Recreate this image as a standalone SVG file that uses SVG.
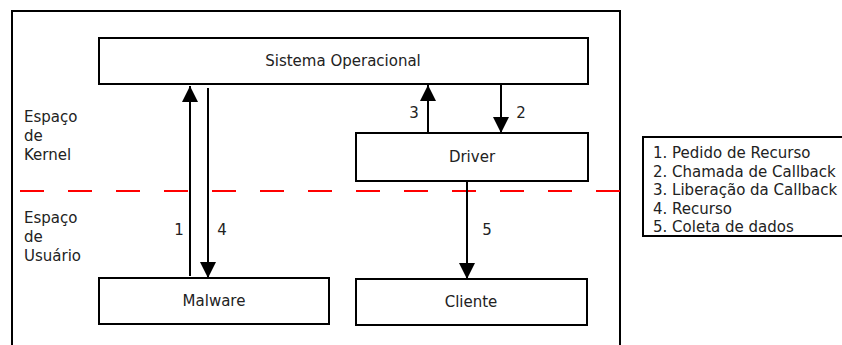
<svg xmlns="http://www.w3.org/2000/svg" width="842" height="345" viewBox="0 0 842 345">
<defs>
<style>
.box{fill:#fff;stroke:#000;stroke-width:2}
.t{font-family:"DejaVu Sans",sans-serif;font-size:15px;fill:#222}
.c{text-anchor:middle}
.ln{stroke:#000;stroke-width:2;fill:none}
</style>
<marker id="ah" viewBox="0 0 16 16" refX="16" refY="8" markerWidth="16" markerHeight="16" markerUnits="userSpaceOnUse" orient="auto">
<path d="M0,0 L16,8 L0,16 Z" fill="#000"/>
</marker>
</defs>
<rect width="842" height="345" fill="#fff"/>
<rect x="12" y="11" width="608" height="345" fill="none" stroke="#000" stroke-width="2"/>
<line x1="20" y1="191" x2="626" y2="191" stroke="#ff0000" stroke-width="2" stroke-dasharray="24,24"/>
<g id="labels">
<text class="t" x="24" y="122">Espaço</text>
<text class="t" x="24" y="141">de</text>
<text class="t" x="24" y="160">Kernel</text>
<text class="t" x="24" y="223">Espaço</text>
<text class="t" x="24" y="242">de</text>
<text class="t" x="24" y="261">Usuário</text>
</g>
<g id="sistema">
<rect class="box" x="99" y="38" width="489" height="46"/>
<text class="t c" x="343" y="66">Sistema Operacional</text>
</g>
<g id="driver">
<rect class="box" x="356" y="133" width="232" height="48"/>
<text class="t c" x="472" y="162">Driver</text>
</g>
<g id="malware">
<rect class="box" x="99" y="278" width="230" height="46"/>
<text class="t c" x="214" y="306">Malware</text>
</g>
<g id="cliente">
<rect class="box" x="356" y="279" width="231" height="46"/>
<text class="t c" x="471" y="307">Cliente</text>
</g>
<g id="connectors">
<line class="ln" x1="190" y1="276" x2="190" y2="86" marker-end="url(#ah)"/>
<line class="ln" x1="208" y1="88" x2="208" y2="278" marker-end="url(#ah)"/>
<line class="ln" x1="428" y1="133" x2="428" y2="85" marker-end="url(#ah)"/>
<line class="ln" x1="501" y1="84" x2="501" y2="133" marker-end="url(#ah)"/>
<line class="ln" x1="467" y1="181" x2="467" y2="279" marker-end="url(#ah)"/>
<text class="t c" x="179" y="235">1</text>
<text class="t c" x="222" y="235">4</text>
<text class="t c" x="414" y="118">3</text>
<text class="t c" x="521" y="118">2</text>
<text class="t c" x="487" y="235">5</text>
</g>
<g id="legend">
<rect class="box" x="643" y="137" width="205" height="99"/>
<text class="t" x="653" y="158">1. Pedido de Recurso</text>
<text class="t" x="653" y="176.5">2. Chamada de Callback</text>
<text class="t" x="653" y="195">3. Liberação da Callback</text>
<text class="t" x="653" y="213.5">4. Recurso</text>
<text class="t" x="653" y="232">5. Coleta de dados</text>
</g>
</svg>
